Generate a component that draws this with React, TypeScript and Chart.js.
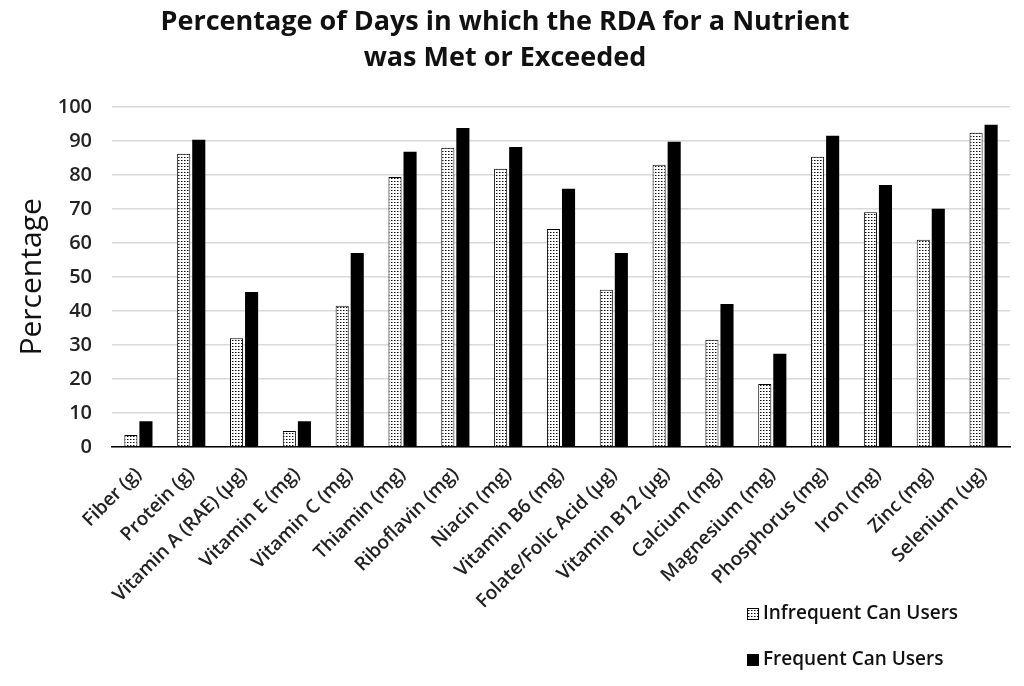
import React, { useEffect, useRef } from "react";
import { Chart, registerables } from "chart.js";

Chart.register(...registerables);

const categories = [
  "Fiber (g)",
  "Protein (g)",
  "Vitamin A (RAE) (µg)",
  "Vitamin E (mg)",
  "Vitamin C (mg)",
  "Thiamin (mg)",
  "Riboflavin (mg)",
  "Niacin (mg)",
  "Vitamin B6 (mg)",
  "Folate/Folic Acid (µg)",
  "Vitamin B12 (µg)",
  "Calcium (mg)",
  "Magnesium (mg)",
  "Phosphorus (mg)",
  "Iron (mg)",
  "Zinc (mg)",
  "Selenium (ug)",
];

const infrequentUsers = [3.5, 86.2, 32, 4.7, 41.5, 79.4, 88, 81.8, 64.1, 46.2, 83, 31.5, 18.5, 85.3, 69, 60.9, 92.4];
const frequentUsers = [7.6, 90.3, 45.6, 7.6, 57, 86.8, 93.8, 88.2, 75.9, 57, 89.7, 42, 27.4, 91.5, 77, 70, 94.7];

const seriesLabels = ["Infrequent Can Users", "Frequent Can Users"];
const titleLines = ["Percentage of Days in which the RDA for a Nutrient", "was Met or Exceeded"];
const yAxisTitle = "Percentage";

const FONT = "'Open Sans', 'DejaVu Sans', sans-serif";

export default function App() {
  const ref = useRef<HTMLCanvasElement | null>(null);

  useEffect(() => {
    document.body.style.margin = "0";
    const canvas = ref.current!;
    const ctx = canvas.getContext("2d")!;

    const pc = document.createElement("canvas");
    pc.width = 3;
    pc.height = 3;
    const pctx = pc.getContext("2d")!;
    pctx.fillStyle = "#ffffff";
    pctx.fillRect(0, 0, 3, 3);
    pctx.fillStyle = "#000000";
    pctx.fillRect(1, 1, 1, 1);
    pctx.fillStyle = "#888888";
    pctx.fillRect(2, 1, 1, 1);
    const pattern = ctx.createPattern(pc, "repeat")!;

    const legendPlugin = {
      id: "customLegend",
      afterDraw(chart: any) {
        const c = chart.ctx;
        c.save();
        c.font = `600 19px ${FONT}`;
        c.textBaseline = "middle";
        c.textAlign = "left";
        const x = 747;
        const ys = [614, 660];
        chart.data.datasets.forEach((ds: any, i: number) => {
          c.fillStyle = ds.backgroundColor;
          c.fillRect(x, ys[i] - 6, 12, 12);
          c.strokeStyle = "#000";
          c.lineWidth = 1;
          c.strokeRect(x + 0.5, ys[i] - 5.5, 11, 11);
          c.fillStyle = "#111";
          c.fillText(ds.label, x + 16, ys[i]);
        });
        c.restore();
      },
    };

    const chart = new Chart(ctx, {
      type: "bar",
      data: {
        labels: categories,
        datasets: [
          {
            label: seriesLabels[0],
            data: infrequentUsers,
            backgroundColor: pattern as any,
            borderColor: "#000",
            borderWidth: 1,
            categoryPercentage: 0.57,
            barPercentage: 0.87,
          },
          {
            label: seriesLabels[1],
            data: frequentUsers,
            backgroundColor: "#000",
            borderColor: "#000",
            borderWidth: 0,
            categoryPercentage: 0.57,
            barPercentage: 0.87,
          },
        ],
      },
      options: {
        animation: false,
        responsive: true,
        maintainAspectRatio: false,
        layout: { padding: { left: 0, right: 14, top: 0, bottom: 0 } },
        plugins: {
          legend: { display: false },
          tooltip: { enabled: false },
          title: {
            display: true,
            text: titleLines,
            color: "#111",
            font: { family: FONT, size: 27, weight: "bold", lineHeight: 1.33 },
            padding: { top: 4, bottom: 31 },
          },
        },
        scales: {
          x: {
            grid: { display: false, drawTicks: false },
            border: { display: true, color: "#000", width: 1.5 },
            ticks: {
              color: "#222",
              font: { family: FONT, size: 19, weight: "600" },
              maxRotation: 45,
              minRotation: 45,
              padding: 16,
              autoSkip: false,
            },
            afterFit(scale: any) {
              scale.height = 686 - 447;
            },
          },
          y: {
            min: 0,
            max: 100,
            ticks: {
              stepSize: 10,
              color: "#222",
              font: { family: FONT, size: 20, weight: "600" },
              padding: 20,
            },
            grid: { color: "#d9d9d9", lineWidth: 1.5, drawTicks: false },
            border: { display: false },
            title: {
              display: true,
              text: yAxisTitle,
              color: "#111",
              font: { family: FONT, size: 30, weight: "500" },
              padding: { top: 14, bottom: 0 },
            },
            afterFit(scale: any) {
              scale.width = 112;
            },
          },
        },
      },
      plugins: [legendPlugin],
    });

    return () => chart.destroy();
  }, []);

  return (
    <div style={{ width: 1024, height: 686, position: "relative" }}>
      <canvas ref={ref} />
    </div>
  );
}
